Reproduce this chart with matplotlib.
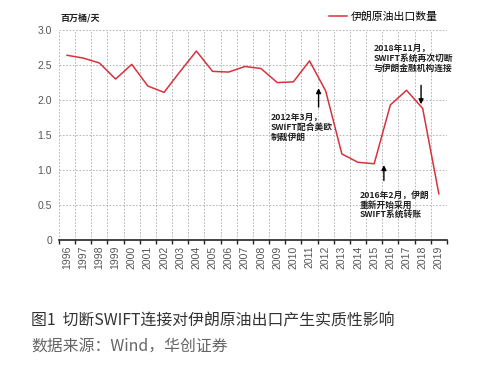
import matplotlib
matplotlib.use("Agg")
import matplotlib.pyplot as plt
import numpy as np

plt.rcParams['font.family'] = ['Noto Sans CJK SC', 'DejaVu Sans']

# data: Iran crude oil exports, million barrels/day
years = [str(y) for y in range(1996, 2020)]
exports = [2.64, 2.60, 2.53, 2.30, 2.51, 2.20, 2.11, 2.41, 2.70, 2.41, 2.40, 2.48,
           2.45, 2.25, 2.26, 2.56, 2.13, 1.23, 1.11, 1.09, 1.93, 2.14, 1.88, 0.66]
yticks = [0, 0.5, 1.0, 1.5, 2.0, 2.5, 3.0]
ytick_labels = ['0', '0.5', '1.0', '1.5', '2.0', '2.5', '3.0']

red = '#d8323c'
grey = '#555555'

fig = plt.figure(figsize=(4.78, 3.76), dpi=100)
ax = fig.add_axes([0.1234, 0.3617, 0.8116, 0.5583])

x = np.arange(len(years))
ax.plot(x, exports, color=red, lw=1.1, label='伊朗原油出口数量')

ax.set_xlim(-0.5, len(years) - 0.5)
ax.set_ylim(0, 3.0)

# category axis: labels at centers, ticks/grid at boundaries
ax.set_xticks(x)
ax.set_xticklabels(years, rotation=90, fontsize=7.5, color=grey,
                   family=['Liberation Sans', 'DejaVu Sans'])
ax.set_xticks(np.arange(-0.5, len(years)), minor=True)
ax.tick_params(axis='x', which='major', length=0, pad=4)
ax.tick_params(axis='x', which='minor', length=3, width=1, direction='out', color='#222222')

ax.set_yticks(yticks)
ax.set_yticklabels(ytick_labels, fontsize=7.5, color=grey,
                   family=['Liberation Sans', 'DejaVu Sans'])
ax.tick_params(axis='y', length=0, pad=5)

ax.grid(True, axis='y', which='major', color='#aaaaaa', lw=0.6, ls=(0, (2, 2)))
ax.grid(True, axis='x', which='minor', color='#aaaaaa', lw=0.6, ls=(0, (2, 2)))
ax.set_axisbelow(True)

for s in ['left', 'right', 'top']:
    ax.spines[s].set_visible(False)
ax.spines['bottom'].set_color('#222222')
ax.spines['bottom'].set_linewidth(1.2)

# unit and legend
fig.text(0.126, 0.953, '百万桶/天', fontsize=6.5, fontweight='bold', color='#222222', va='center')
ax.legend(loc='center left', bbox_to_anchor=(0.688, 0.955), bbox_transform=fig.transFigure,
          frameon=False, fontsize=7.8, handlelength=1.67, handletextpad=0.37,
          borderpad=0, borderaxespad=0)

# annotations
arrow = dict(arrowstyle='-|>', color='black', lw=1.0, mutation_scale=7)
ax.annotate('', xy=(15.56, 2.21), xytext=(15.56, 1.86), arrowprops=arrow)
ax.annotate('', xy=(19.6, 1.11), xytext=(19.6, 0.81), arrowprops=arrow)
ax.annotate('', xy=(21.9, 1.90), xytext=(21.9, 2.25), arrowprops=arrow)

tkw = dict(fontsize=6.3, fontweight='bold', color='#222222', va='top', ha='left', linespacing=1.15)
ax.text(12.6, 1.82, '2012年3月，\nSWIFT配合美欧\n制裁伊朗', **tkw)
ax.text(18.1, 0.71, '2016年2月，伊朗\n重新开始采用\nSWIFT系统转账', **tkw)
ax.text(18.95, 2.80, '2018年11月，\nSWIFT系统再次切断\n与伊朗金融机构连接', **tkw)

# caption
fig.text(0.065, 0.147, '图1  切断SWIFT连接对伊朗原油出口产生实质性影响', fontsize=11.4,
         fontweight='medium', color='#333333', va='center')
fig.text(0.065, 0.078, '数据来源：Wind，华创证券', fontsize=11.4, color='#666666', va='center')

fig.savefig('out.png', dpi=100)
